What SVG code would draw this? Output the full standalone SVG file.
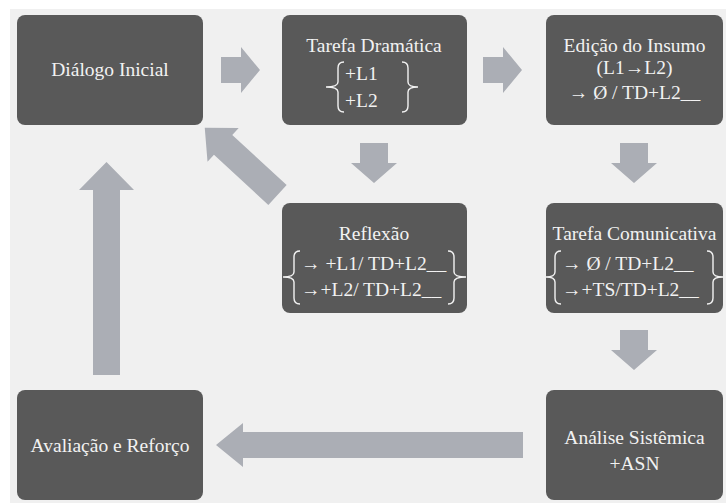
<svg xmlns="http://www.w3.org/2000/svg" width="726" height="503" viewBox="0 0 726 503">
<style>
.box{fill:#595959}
.t{fill:#f2f2f2;font-size:19.5px}
.m{text-anchor:middle}
.br{fill:none;stroke:#f2f2f2;stroke-width:1.4}
.ar{fill:#abaeb5}
</style>
<rect x="0" y="0" width="726" height="503" fill="#ffffff"/>
<rect x="10" y="9" width="716" height="494" fill="#f0f0f0"/>
<g id="connectors">
<polygon class="ar" points="221,57 241,57 241,47 260,70 241,93 241,83 221,83"/>
<polygon class="ar" points="483,57 503,57 503,47 522,70 503,93 503,83 483,83"/>
<polygon class="ar" points="360,143 388,143 388,163 397,163 374,183 351,163 360,163"/>
<polygon class="ar" points="620,143 648,143 648,163 657,163 634,183 611,163 620,163"/>
<polygon class="ar" points="620,330 648,330 648,350 657,350 634,370 611,350 620,350"/>
<polygon class="ar" points="523,432 243,432 243,423 216,445 243,467 243,458 523,458"/>
<polygon class="ar" points="93,375 93,190 79,190 106.5,162 134,190 120,190 120,375"/>
<polygon class="ar" transform="translate(277.5,195) rotate(222.7)" points="0,-13.5 74,-13.5 74,-23 99,0 74,23 74,13.5 0,13.5"/>
</g>
<g font-family="'Liberation Serif', 'Times New Roman', 'DejaVu Serif', serif">
<g id="dialogo">
<rect class="box" x="17" y="15" width="186" height="110" rx="8"/>
<text class="t m" x="110" y="76">Diálogo Inicial</text>
</g>
<g id="tarefa-dramatica">
<rect class="box" x="282" y="15" width="185" height="110" rx="8"/>
<text class="t m" x="374" y="52">Tarefa Dramática</text>
<text class="t" x="345" y="80">+L1</text>
<text class="t" x="345" y="107">+L2</text>
<path class="br" d="M344,62 Q338,62 338,68 L338,82 Q338,87 326,87 Q338,87 338,92 L338,106 Q338,112 344,112"/>
<path class="br" d="M402,62 Q408,62 408,68 L408,82 Q408,87 418,87 Q408,87 408,92 L408,106 Q408,112 402,112"/>
</g>
<g id="edicao">
<rect class="box" x="546" y="15" width="177" height="110" rx="8"/>
<text class="t m" x="634.5" y="52">Edição do Insumo</text>
<text class="t m" x="634.5" y="74">(L1→L2)</text>
<text class="t m" x="634.5" y="99">→ Ø / TD+L2__</text>
</g>
<g id="reflexao">
<rect class="box" x="282" y="203" width="185" height="110" rx="8"/>
<text class="t m" x="374" y="240">Reflexão</text>
<text class="t" x="301" y="270">→ +L1/ TD+L2__</text>
<text class="t" x="301" y="296">→+L2/ TD+L2__</text>
<path class="br" d="M300,251 Q294,251 294,257 L294,272 Q294,277 283,277 Q294,277 294,282 L294,298 Q294,304 300,304"/>
<path class="br" d="M448,251 Q454,251 454,257 L454,272 Q454,277 466,277 Q454,277 454,282 L454,298 Q454,304 448,304"/>
</g>
<g id="tarefa-comunicativa">
<rect class="box" x="546" y="203" width="177" height="110" rx="8"/>
<text class="t m" x="634.5" y="240">Tarefa Comunicativa</text>
<text class="t" x="562" y="270">→  Ø / TD+L2__</text>
<text class="t" x="562" y="296">→+TS/TD+L2__</text>
<path class="br" d="M561,251 Q555,251 555,257 L555,272 Q555,277 546,277 Q555,277 555,282 L555,298 Q555,304 561,304"/>
<path class="br" d="M707,251 Q713,251 713,257 L713,272 Q713,277 723,277 Q713,277 713,282 L713,298 Q713,304 707,304"/>
</g>
<g id="analise">
<rect class="box" x="546" y="390" width="177" height="110" rx="8"/>
<text class="t m" x="634.5" y="444">Análise Sistêmica</text>
<text class="t m" x="634.5" y="470">+ASN</text>
</g>
<g id="avaliacao">
<rect class="box" x="17" y="390" width="186" height="110" rx="8"/>
<text class="t m" x="110" y="452">Avaliação e Reforço</text>
</g>
</g>
</svg>
